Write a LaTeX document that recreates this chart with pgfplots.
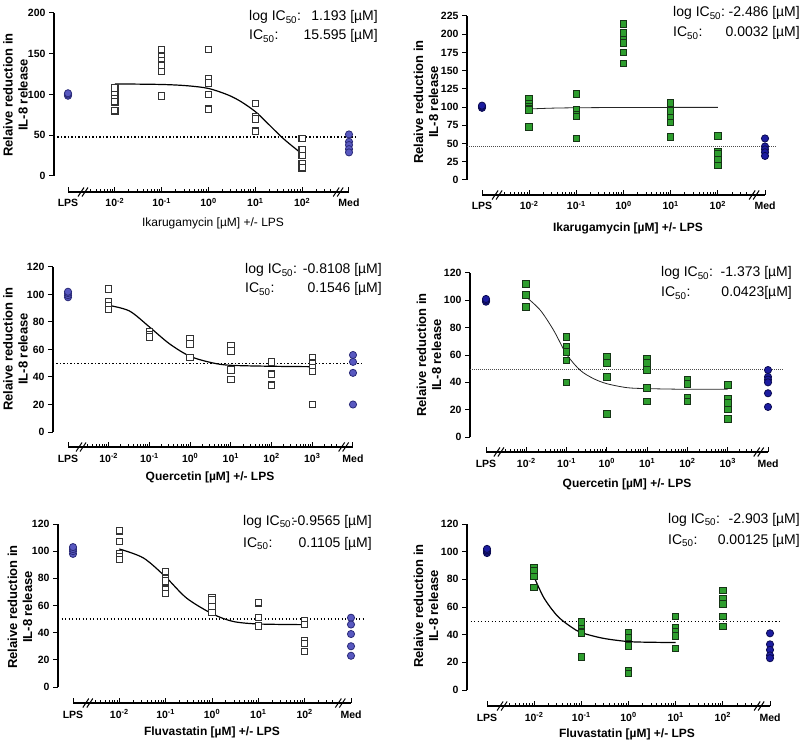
\documentclass[border=0pt]{standalone}
\usepackage{pgfplots}
\pgfplotsset{compat=1.18}
\usepackage{fontspec}
\setmainfont{Liberation Sans}
\definecolor{grn}{HTML}{2E9E2E}
\definecolor{grnedge}{HTML}{163416}
\definecolor{lblue}{HTML}{5858C0}
\definecolor{lblueedge}{HTML}{2A2A78}
\definecolor{dblue}{HTML}{1C1CA0}
\definecolor{dblueedge}{HTML}{0A0A50}
\newcommand{\tickfont}{\fontsize{10.5}{11}\selectfont\bfseries}
\newcommand{\annfont}{\fontsize{14}{16}\selectfont}
\newcommand{\ylabfont}{\fontsize{13}{15}\selectfont\bfseries}
\newcommand{\xlabfont}{\fontsize{12}{14}\selectfont}
\pgfplotsset{
  prism/.style={
    scale only axis, anchor=south west,
    axis x line*=bottom, axis y line*=left,
    separate axis lines,
    axis line style={-, line width=1.2pt, black},
    clip=false,
    xmin=-3, ymin=0,
    xtick align=inside, ytick align=outside,
    major tick length=5pt, minor tick length=3pt,
    every tick/.style={black, line width=1pt},
    /pgf/number format/assume math mode=true,
    tick label style={font=\tickfont},
    xticklabel style={anchor=base, yshift=-15pt},
    xtick={-3,-2,-1,0,1,2,3},
  },
  opensq/.style={only marks, mark=square*, mark size=3.2pt, mark options={fill=white, draw=black!80, line width=1.1pt}},
  grnsq/.style={only marks, mark=square*, mark size=3.3pt, mark options={fill=grn, draw=grnedge, line width=1pt}},
  lcirc/.style={only marks, mark=*, mark size=3.6pt, mark options={fill=lblue, draw=lblueedge, line width=0.8pt}},
  dcirc/.style={only marks, mark=*, mark size=3.6pt, mark options={fill=dblue, draw=dblueedge, line width=0.8pt}},
  fitline/.style={black, line width=1.2pt, smooth, no marks},
  fitthin/.style={black!85, line width=0.8pt, smooth, no marks},
  dotref/.style={black, line width=1.3pt, dash pattern=on 1.3pt off 2.2pt, no marks},
  thinref/.style={black!70, line width=0.7pt, dash pattern=on 0.7pt off 1.3pt, no marks},
}
\newcommand{\minorsix}{-2.523,-2.398,-2.301,-2.222,-2.155,-2.097,-2.046,
 -1.699,-1.523,-1.398,-1.301,-1.222,-1.155,-1.097,-1.046,
 -0.699,-0.523,-0.398,-0.301,-0.222,-0.155,-0.097,-0.046,
 0.301,0.477,0.602,0.699,0.778,0.845,0.903,0.954,
 1.301,1.477,1.602,1.699,1.778,1.845,1.903,1.954,
 2.301,2.477,2.602}
\newcommand{\minorseven}{-2.523,-2.398,-2.301,-2.222,-2.155,-2.097,-2.046,
 -1.699,-1.523,-1.398,-1.301,-1.222,-1.155,-1.097,-1.046,
 -0.699,-0.523,-0.398,-0.301,-0.222,-0.155,-0.097,-0.046,
 0.301,0.477,0.602,0.699,0.778,0.845,0.903,0.954,
 1.301,1.477,1.602,1.699,1.778,1.845,1.903,1.954,
 2.301,2.477,2.602,2.699,2.778,2.845,2.903,2.954,
 3.301,3.477,3.602}
\newcommand{\brk}[2]{%
  \draw[line width=1pt] ([yshift=-#2]axis cs:#1,0) ++(-5pt,-4.5pt) -- ++(6pt,9pt);
  \draw[line width=1pt] ([yshift=-#2]axis cs:#1,0) ++(-1pt,-4.5pt) -- ++(6pt,9pt);}
\begin{document}
\begin{tikzpicture}[x=1pt,y=1pt]
% ---------------- Panel 1 ----------------
\begin{axis}[prism, at={(68pt,569pt)}, width=281pt, height=163pt,
  xmax=3, ymax=200, ytick={0,50,100,150,200},
  axis y line shift=14pt, axis x line shift=16pt,
  xticklabels={LPS,10\textsuperscript{-2},10\textsuperscript{-1},10\textsuperscript{0},10\textsuperscript{1},10\textsuperscript{2},Med},
  minor xtick={\minorsix}]
\addplot[dotref] coordinates {(-3.30,48) (3.19,48)};
\addplot[fitline] coordinates {(-2,113) (-1,112.3) (-0.45,110.7) (0,107.4) (0.41,99.6) (0.69,91.4) (1,79) (1.26,64.8) (1.55,48.4) (1.76,38) (2,27)};
\addplot[opensq] coordinates {(-2,108) (-2,100) (-2,95) (-2,91) (-2,80)
 (-1,155) (-1,146) (-1,141) (-1,136) (-1,128) (-1,98)
 (0,155) (0,119) (0,114) (0,100) (0,82)
 (1,89) (1,73) (1,70) (1,55)
 (2,46) (2,32) (2,25) (2,15) (2,10)};
\addplot[lcirc] coordinates {(-3,98.5) (-3,100) (-3,101.5) (3,51) (3,42) (3,38) (3,33) (3,29)};
\brk{-2.68}{16pt}
\brk{2.77}{16pt}
\end{axis}
% ---------------- Panel 2 ----------------
\begin{axis}[prism, at={(482pt,565pt)}, width=283pt, height=164pt,
  xmax=3, ymax=225, ytick={0,25,...,225},
  axis y line shift=15pt, axis x line shift=15pt,
  xticklabels={LPS,10\textsuperscript{-2},10\textsuperscript{-1},10\textsuperscript{0},10\textsuperscript{1},10\textsuperscript{2},Med},
  minor xtick={\minorsix}]
\addplot[thinref] coordinates {(-3.32,46.5) (3.25,46.5)};
\addplot[fitthin] coordinates {(-2,97.5) (-1.5,98.6) (-1,99.1) (0,99.5) (1,99.6) (2,99.6)};
\addplot[grnsq] coordinates {(-2,111) (-2,105) (-2,101) (-2,98) (-2,96) (-2,73)
 (-1,118) (-1,96) (-1,90) (-1,87) (-1,57)
 (0,214) (0,202) (0,193) (0,188) (0,175) (0,160)
 (1,106) (1,95) (1,85) (1,79) (1,59)
 (2,60) (2,39) (2,36) (2,28) (2,20)};
\addplot[dcirc] coordinates {(-3,99) (-3,100.5) (-3,102) (3,57) (3,46) (3,42) (3,38) (3,33)};
\brk{-2.68}{15pt}
\brk{2.77}{15pt}
\end{axis}
% ---------------- Panel 3 ----------------
\begin{axis}[prism, at={(68pt,313pt)}, width=285pt, height=165pt,
  xmax=4, ymax=120, ytick={0,20,...,120},
  axis y line shift=15pt, axis x line shift=15pt,
  xtick={-3,-2,-1,0,1,2,3,4},
  xticklabels={LPS,10\textsuperscript{-2},10\textsuperscript{-1},10\textsuperscript{0},10\textsuperscript{1},10\textsuperscript{2},10\textsuperscript{3},Med},
  minor xtick={\minorseven}]
\addplot[dotref] coordinates {(-3.37,50) (4.25,50)};
\addplot[fitline] coordinates {(-2,92.1) (-1.49,88) (-1,76.4) (-0.51,64.2) (0,55) (0.56,50.2) (1,48.5) (2,47.8) (3,47.5)};
\addplot[opensq] coordinates {(-2,104) (-2,95) (-2,92) (-2,89)
 (-1,73) (-1,71) (-1,69)
 (0,68) (0,64) (0,54)
 (1,63) (1,59) (1,45) (1,38)
 (2,51) (2,42) (2,34)
 (3,54) (3,50) (3,47) (3,44) (3,20)};
\addplot[lcirc] coordinates {(-3,98) (-3,99.5) (-3,101) (-3,102) (4,56) (4,51) (4,43) (4,20)};
\brk{-2.68}{15pt}
\brk{3.77}{15pt}
\end{axis}
% ---------------- Panel 4 ----------------
\begin{axis}[prism, at={(486pt,308pt)}, width=282pt, height=164pt,
  xmax=4, ymax=120, ytick={0,20,...,120},
  axis y line shift=16pt, axis x line shift=15pt,
  xtick={-3,-2,-1,0,1,2,3,4},
  xticklabels={LPS,10\textsuperscript{-2},10\textsuperscript{-1},10\textsuperscript{0},10\textsuperscript{1},10\textsuperscript{2},10\textsuperscript{3},Med},
  minor xtick={\minorseven}]
\addplot[thinref] coordinates {(-3.40,49.3) (4.37,49.3)};
\addplot[fitthin] coordinates {(-2,102.4) (-1.65,92.7) (-1.32,78) (-1,60.5) (-0.66,48.8) (-0.33,42.7) (0,39) (0.5,36.1) (1,35.4) (2,34.9) (3,34.9)};
\addplot[grnsq] coordinates {(-2,112) (-2,104) (-2,95)
 (-1,73) (-1,66) (-1,62) (-1,56) (-1,40)
 (0,59) (0,54) (0,44) (0,17)
 (1,57) (1,54) (1,49) (1,36) (1,26)
 (2,42) (2,39) (2,29) (2,26)
 (3,38) (3,28) (3,25) (3,20) (3,13)};
\addplot[dcirc] coordinates {(-3,99) (-3,100) (-3,101) (4,49) (4,44) (4,42) (4,40) (4,32) (4,22)};
\brk{-2.68}{15pt}
\brk{3.77}{15pt}
\end{axis}
% ---------------- Panel 5 ----------------
\begin{axis}[prism, at={(73pt,58pt)}, width=278pt, height=163pt,
  xmax=3, ymax=120, ytick={0,20,...,120},
  axis y line shift=15pt, axis x line shift=16pt,
  xticklabels={LPS,10\textsuperscript{-2},10\textsuperscript{-1},10\textsuperscript{0},10\textsuperscript{1},10\textsuperscript{2},Med},
  minor xtick={\minorsix}]
\addplot[dotref] coordinates {(-3.32,50) (3.30,50)};
\addplot[fitline] coordinates {(-2,101.6) (-1.48,95) (-1,81) (-0.55,65.5) (0,54) (0.45,48.3) (1,46.4) (2,45.9)};
\addplot[opensq] coordinates {(-2,115) (-2,107) (-2,98) (-2,96) (-2,94)
 (-1,85) (-1,80) (-1,78) (-1,72) (-1,69)
 (0,66) (0,64) (0,59) (0,55)
 (1,62) (1,51) (1,45)
 (2,49) (2,46) (2,34) (2,32) (2,26)};
\addplot[lcirc] coordinates {(-3,98) (-3,100) (-3,101.5) (-3,103) (3,51) (3,46) (3,39) (3,30) (3,23)};
\brk{-2.68}{16pt}
\brk{2.77}{16pt}
\end{axis}
% ---------------- Panel 6 ----------------
\begin{axis}[prism, at={(487pt,55pt)}, width=283pt, height=166pt,
  xmax=3, ymax=120, ytick={0,20,...,120},
  axis y line shift=20pt, axis x line shift=16pt,
  xticklabels={LPS,10\textsuperscript{-2},10\textsuperscript{-1},10\textsuperscript{0},10\textsuperscript{1},10\textsuperscript{2},Med},
  minor xtick={\minorsix}]
\addplot[dotref] coordinates {(-3.42,49.5) (3.25,49.5)};
\addplot[fitline] coordinates {(-2,81.6) (-1.79,66.4) (-1.51,53.6) (-1.23,45.9) (-1,41.5) (-0.54,37.4) (0,35) (0.5,34.5) (1,34.3)};
\addplot[grnsq] coordinates {(-2,88) (-2,86) (-2,82) (-2,74)
 (-1,49) (-1,44) (-1,42) (-1,41) (-1,24)
 (0,41) (0,38) (0,32) (0,14) (0,12)
 (1,53) (1,45) (1,42) (1,39) (1,30)
 (2,72) (2,66) (2,62) (2,53) (2,46)};
\addplot[dcirc] coordinates {(-3,99) (-3,100) (-3,101) (-3,102) (3,41) (3,33) (3,29) (3,25) (3,23)};
\brk{-2.68}{16pt}
\brk{2.77}{16pt}
\end{axis}
% ---------------- Labels ----------------
\begin{scope}[every node/.style={inner sep=0pt}]
% y labels
\node[rotate=90, align=center, font=\ylabfont] at (15.5pt,650pt) {Relaive reduction in\\IL-8 release};
\node[rotate=90, align=center, font=\ylabfont] at (426pt,643pt) {Relaive reduction in\\IL-8 release};
\node[rotate=90, align=center, font=\ylabfont] at (15.5pt,396pt) {Relaive reduction in\\IL-8 release};
\node[rotate=90, align=center, font=\ylabfont] at (429pt,390pt) {Relaive reduction in\\IL-8 release};
\node[rotate=90, align=center, font=\ylabfont] at (20pt,138pt) {Relaive reduction in\\IL-8 release};
\node[rotate=90, align=center, font=\ylabfont] at (426pt,139pt) {Relaive reduction in\\IL-8 release};
% x labels
\node[font=\xlabfont] at (213pt,522pt) {Ikarugamycin [µM] +/- LPS};
\node[font=\xlabfont\bfseries] at (628pt,517pt) {Ikarugamycin [µM] +/- LPS};
\node[font=\xlabfont\bfseries] at (210pt,268pt) {Quercetin [µM] +/- LPS};
\node[font=\xlabfont\bfseries] at (627pt,261pt) {Quercetin [µM] +/- LPS};
\node[font=\xlabfont\bfseries] at (212pt,13pt) {Fluvastatin [µM] +/- LPS};
\node[font=\xlabfont\bfseries] at (627pt,11pt) {Fluvastatin [µM] +/- LPS};
% annotations
\node[font=\annfont, anchor=base west] at (249pt,724pt) {log IC\textsubscript{50}:};
\node[font=\annfont, anchor=base east] at (378pt,724pt) {1.193 [µM]};
\node[font=\annfont, anchor=base west] at (249pt,705pt) {IC\textsubscript{50}:};
\node[font=\annfont, anchor=base east] at (378pt,705pt) {15.595 [µM]};
\node[font=\annfont, anchor=base west] at (673pt,728pt) {log IC\textsubscript{50}:};
\node[font=\annfont, anchor=base east] at (800pt,728pt) {-2.486 [µM]};
\node[font=\annfont, anchor=base west] at (673pt,708pt) {IC\textsubscript{50}:};
\node[font=\annfont, anchor=base east] at (800pt,708pt) {0.0032 [µM]};
\node[font=\annfont, anchor=base west] at (245pt,471pt) {log IC\textsubscript{50}:};
\node[font=\annfont, anchor=base east] at (382pt,471pt) {-0.8108 [µM]};
\node[font=\annfont, anchor=base west] at (245pt,452pt) {IC\textsubscript{50}:};
\node[font=\annfont, anchor=base east] at (382pt,452pt) {0.1546 [µM]};
\node[font=\annfont, anchor=base west] at (661pt,468pt) {log IC\textsubscript{50}:};
\node[font=\annfont, anchor=base east] at (792pt,468pt) {-1.373 [µM]};
\node[font=\annfont, anchor=base west] at (661pt,448pt) {IC\textsubscript{50}:};
\node[font=\annfont, anchor=base east] at (792pt,448pt) {0.0423[µM]};
\node[font=\annfont, anchor=base west] at (243pt,220pt) {log IC\textsubscript{50}:};
\node[font=\annfont, anchor=base east] at (372pt,220pt) {-0.9565 [µM]};
\node[font=\annfont, anchor=base west] at (243pt,198pt) {IC\textsubscript{50}:};
\node[font=\annfont, anchor=base east] at (372pt,198pt) {0.1105 [µM]};
\node[font=\annfont, anchor=base west] at (668pt,222pt) {log IC\textsubscript{50}:};
\node[font=\annfont, anchor=base east] at (800pt,222pt) {-2.903 [µM]};
\node[font=\annfont, anchor=base west] at (668pt,201pt) {IC\textsubscript{50}:};
\node[font=\annfont, anchor=base east] at (800pt,201pt) {0.00125 [µM]};
\end{scope}
\pgfresetboundingbox
\useasboundingbox (0pt,0pt) rectangle (805pt,745pt);
\end{tikzpicture}
\end{document}
